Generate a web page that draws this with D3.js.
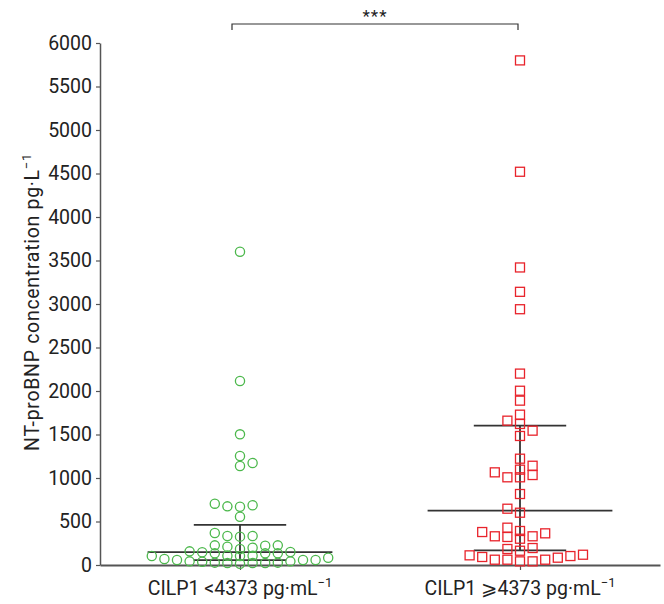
<!DOCTYPE html>
<html lang="en">
<head>
<meta charset="UTF-8" />
<title>NT-proBNP by CILP1 group</title>
<script src="https://cdn.jsdelivr.net/npm/d3@7"></script>
<style>
  body { margin: 0; background: #fff; }
  svg text { font-family: Roboto, "DejaVu Sans", sans-serif; fill: #222; }
</style>
</head>
<body>
<svg id="chart" width="664" height="604"></svg>
<script>
// groups and their labels (superscript -1 added below)
const groups = ["low", "high"];
const groupLabels = ["CILP1 <4373 pg·mL", "CILP1 \u2A7E4373 pg·mL"];

// NT-proBNP values (pg/L)
const lowValues = [
  15, 23, 23, 23, 27, 27, 38, 42, 42, 57, 57, 57, 69, 84, 103, 103, 107, 107,
  134, 134, 134, 146, 149, 157, 184, 199, 211, 222, 226, 226, 326, 333, 333, 368,
  555, 670, 674, 686, 705, 1138, 1172, 1253, 1502, 2115, 3600
];
const highValues = [
  42, 42, 61, 61, 61, 84, 92, 103, 111, 118, 164, 184, 195, 302, 322, 330, 330,
  364, 379, 391, 429, 601, 647, 816, 1008, 1008, 1034, 1065, 1096, 1141, 1222,
  1483, 1544, 1621, 1659, 1728, 1889, 2003, 2200, 2940, 3140, 3420, 4520, 5800
];
const yTicks = d3.range(0, 6001, 500);
const significance = "***";

const svg = d3.select("#chart");

const x = d3.scalePoint().domain(groups).range([100, 660]).padding(0.5);
const y = d3.scaleLinear().domain([0, 6000]).range([565, 43]);

// quartiles the way Prism does it: position (n+1)p
function quart(vals, p) {
  const s = vals.slice().sort((a, b) => a - b);
  const pos = (s.length + 1) * p - 1;
  const lo = Math.floor(pos), hi = Math.ceil(pos);
  return s[lo] + (s[hi] - s[lo]) * (pos - lo);
}

// greedy beeswarm on a half grid, box-shaped collision
const grid = 6.3, xGap = 12, yGap = 7;
function swarm(values) {
  const placed = [];
  values.slice().sort((a, b) => a - b).forEach(v => {
    const py = y(v);
    for (let k = 0; k < 200; k++) {
      let cands = k === 0 ? [0] : [k * grid, -k * grid];
      if (d3.sum(placed, p => p.dx) > 0) cands.reverse();
      const ok = cands.find(dx => placed.every(p =>
        Math.abs(p.dx - dx) >= xGap || Math.abs(p.py - py) >= yGap));
      if (ok !== undefined) { placed.push({ v, dx: ok, py }); break; }
    }
  });
  return placed;
}

// y axis
const yAxis = svg.append("g")
  .attr("transform", `translate(${x.range()[0]},0)`)
  .call(d3.axisLeft(y).tickValues(yTicks).tickFormat(d3.format("d"))
    .tickSize(4).tickSizeOuter(0).tickPadding(4));
yAxis.select(".domain").attr("stroke", "#555").attr("stroke-width", 1.5);
yAxis.selectAll(".tick line").attr("stroke", "#555").attr("stroke-width", 1.2);
yAxis.selectAll(".tick text").style("font-size", "19.5px").attr("fill", "#222");

// x axis
const xAxis = svg.append("g")
  .attr("transform", `translate(0,${y(0)})`)
  .call(d3.axisBottom(x).tickSize(5).tickSizeOuter(0).tickFormat(""));
xAxis.select(".domain").attr("stroke", "#555").attr("stroke-width", 2);
xAxis.selectAll(".tick line").attr("stroke", "#555").attr("stroke-width", 1.2);

const xl = svg.append("g").selectAll("text")
  .data(groups)
  .join("text")
  .attr("x", d => x(d))
  .attr("y", 595)
  .attr("text-anchor", "middle")
  .style("font-size", "19.5px");
xl.append("tspan").text((d, i) => groupLabels[i]);
xl.append("tspan").attr("dy", -8).style("font-size", "13px").text("\u22121");

// y label
const yl = svg.append("text")
  .attr("transform", "translate(39,302) rotate(-90)")
  .attr("text-anchor", "middle")
  .style("font-size", "19.5px")
  .style("letter-spacing", "0.7px");
yl.append("tspan").text("NT-proBNP concentration pg·L");
yl.append("tspan").attr("dy", -8).style("font-size", "13px").text("\u22121");

// median + IQR bars
const series = { low: lowValues, high: highValues };
const barW = x.step() * 0.33, qW = x.step() * 0.165;
groups.forEach(g => {
  const cx = x(g);
  const q1 = quart(series[g], 0.25), med = quart(series[g], 0.5), q3 = quart(series[g], 0.75);
  const gb = svg.append("g").attr("stroke", "#333").attr("stroke-width", 1.8);
  gb.append("line").attr("x1", cx).attr("x2", cx).attr("y1", y(q1)).attr("y2", y(q3));
  gb.append("line").attr("x1", cx - barW).attr("x2", cx + barW).attr("y1", y(med)).attr("y2", y(med));
  gb.append("line").attr("x1", cx - qW).attr("x2", cx + qW).attr("y1", y(q1)).attr("y2", y(q1));
  gb.append("line").attr("x1", cx - qW).attr("x2", cx + qW).attr("y1", y(q3)).attr("y2", y(q3));
});

// points
svg.append("g").selectAll("circle")
  .data(swarm(lowValues))
  .join("circle")
  .attr("cx", d => x("low") + d.dx)
  .attr("cy", d => d.py)
  .attr("r", 4.6)
  .attr("fill", "none")
  .attr("stroke", "#4cb84c")
  .attr("stroke-width", 1.3);

svg.append("g").selectAll("rect")
  .data(swarm(highValues))
  .join("rect")
  .attr("x", d => x("high") + d.dx - 4.5)
  .attr("y", d => d.py - 4.5)
  .attr("width", 9)
  .attr("height", 9)
  .attr("fill", "none")
  .attr("stroke", "#e8232b")
  .attr("stroke-width", 1.3);

// significance bracket
const by = 24;
svg.append("path")
  .attr("d", `M${x("low") - 8},${by + 6}V${by}H${x("high") - 2}V${by + 6}`)
  .attr("fill", "none")
  .attr("stroke", "#333")
  .attr("stroke-width", 1.2);
svg.append("text")
  .attr("x", (x("low") + x("high")) / 2 - 5)
  .attr("y", by - 2)
  .attr("text-anchor", "middle")
  .style("font-size", "17px")
  .style("letter-spacing", "1px")
  .text(significance);
</script>
</body>
</html>
